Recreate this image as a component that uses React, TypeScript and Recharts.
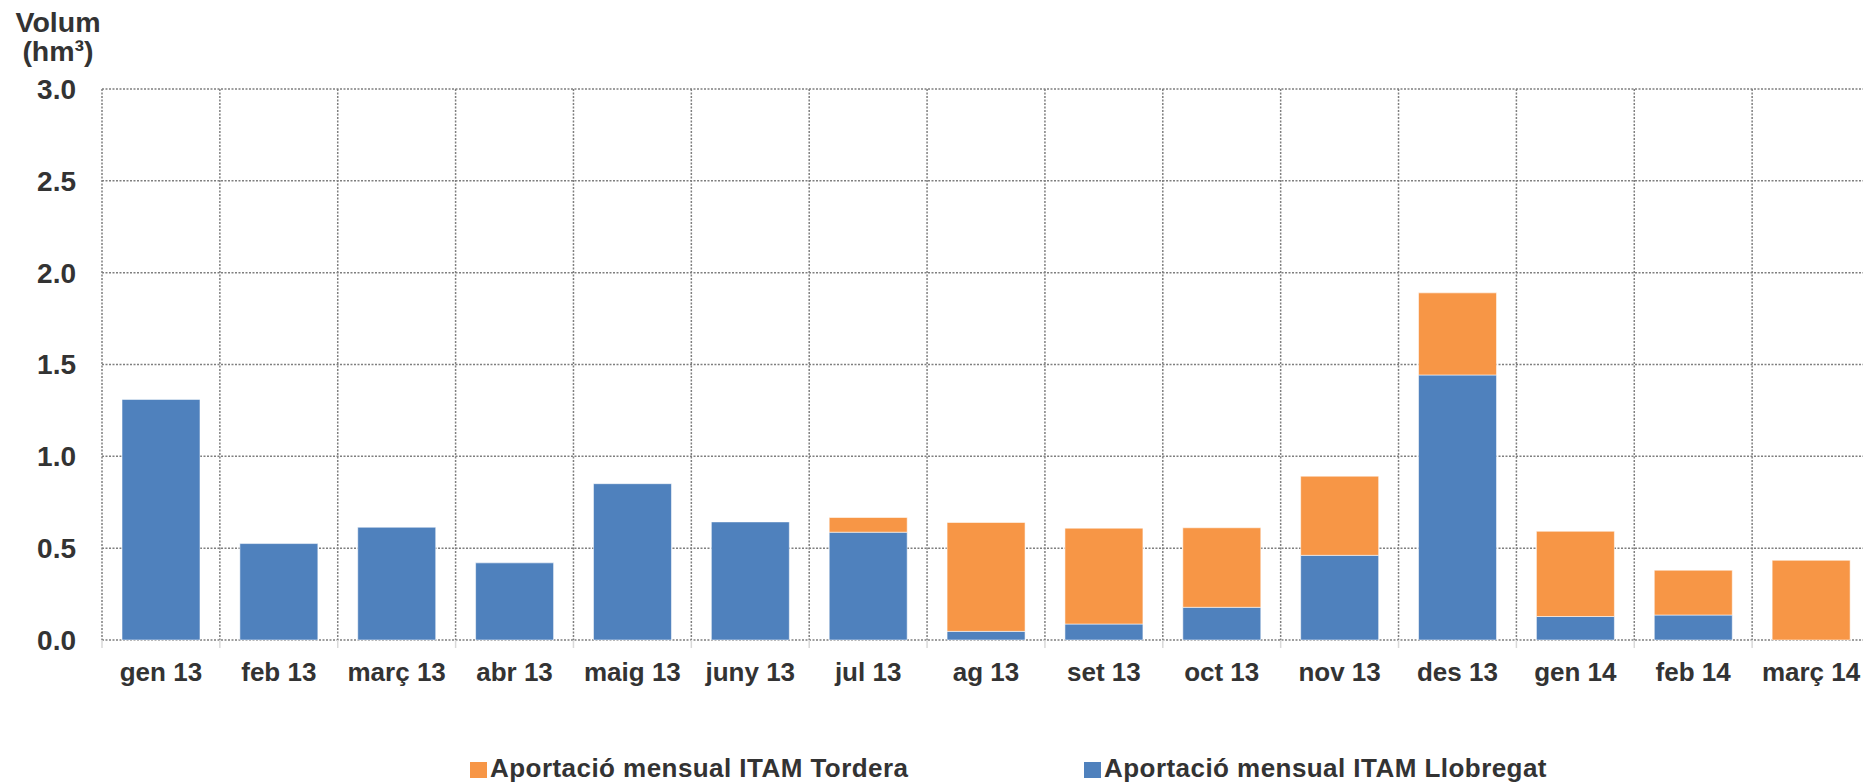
import React from "react";
import { BarChart, Bar, XAxis, YAxis, CartesianGrid } from "recharts";

const months = [
  "gen 13", "feb 13", "març 13", "abr 13", "maig 13", "juny 13", "jul 13", "ag 13",
  "set 13", "oct 13", "nov 13", "des 13", "gen 14", "feb 14", "març 14",
];
const llobregat = [1.31, 0.525, 0.614, 0.42, 0.851, 0.643, 0.587, 0.047, 0.087, 0.178, 0.461, 1.443, 0.128, 0.136, 0];
const tordera = [0, 0, 0, 0, 0, 0, 0.08, 0.593, 0.522, 0.433, 0.431, 0.447, 0.464, 0.244, 0.434];
const yTicks = [0, 0.5, 1, 1.5, 2, 2.5, 3];

const data = months.map((m, i) => ({
  month: m,
  llobregat: llobregat[i] || null,
  tordera: tordera[i] || null,
}));

const BLUE = "#4F81BD";
const ORANGE = "#F79646";
const TEXT = "#333333";
const FONT = "'Liberation Sans', Arial, sans-serif";
const GRID = "#7f7f7f";

const W = 1880;
const H = 783;
const M = { top: 89, right: 10, bottom: 0, left: 0 };
const Y_W = 102;
const X_H = 143;
const plotLeft = M.left + Y_W;
const plotRight = W - M.right;
const halfBand = (plotRight - plotLeft) / months.length / 2;
const LABEL_GAP = 23;

function MonthTick(props: any) {
  const { x, y, payload, index } = props;
  const axisY = y - LABEL_GAP;
  return (
    <g>
      <line x1={x - halfBand} x2={x - halfBand} y1={axisY} y2={axisY + 8} stroke="#d9d9d9" strokeWidth={1.5} />
      {index === months.length - 1 && (
        <line x1={x + halfBand} x2={x + halfBand} y1={axisY} y2={axisY + 8} stroke="#d9d9d9" strokeWidth={1.5} />
      )}
      <text x={x} y={y} dy="0.71em" textAnchor="middle" fill={TEXT} fontSize={26} fontWeight="bold" fontFamily={FONT}>
        {payload.value}
      </text>
    </g>
  );
}

function LegendItem({ color, label, left }: { color: string; label: string; left: number }) {
  return (
    <div style={{ position: "absolute", left, top: 755, display: "flex", alignItems: "flex-start", whiteSpace: "nowrap" }}>
      <div style={{ width: 17, height: 16, background: color, marginTop: 7, marginRight: 3 }} />
      <span style={{ fontSize: 26, lineHeight: "26px", fontWeight: "bold", color: TEXT, letterSpacing: 0.45 }}>{label}</span>
    </div>
  );
}

export default function App() {
  return (
    <div
      style={{
        position: "absolute",
        left: 0,
        top: 0,
        width: 1863,
        height: 783,
        overflow: "hidden",
        background: "#fff",
        fontFamily: FONT,
      }}
    >
      <div
        style={{
          position: "absolute",
          left: 0,
          top: 8,
          width: 116,
          textAlign: "center",
          fontSize: 28.5,
          lineHeight: "29px",
          fontWeight: "bold",
          color: TEXT,
        }}
      >
        <div>Volum</div>
        <div>(hm³)</div>
      </div>

      <BarChart width={W} height={H} data={data} margin={M} barSize={78}>
        <CartesianGrid
          stroke={GRID}
          strokeWidth={1.5}
          strokeDasharray="2 1.5"
          verticalCoordinatesGenerator={({ offset }: any) => {
            const left = offset?.left ?? plotLeft;
            const width = offset?.width ?? plotRight - plotLeft;
            return months.map((_, i) => left + (i * width) / months.length).concat(left + width);
          }}
        />
        <XAxis
          dataKey="month"
          height={X_H}
          axisLine={false}
          tickLine={false}
          tickSize={0}
          tickMargin={LABEL_GAP}
          interval={0}
          tick={<MonthTick />}
        />
        <YAxis
          width={Y_W}
          domain={[0, 3]}
          ticks={yTicks}
          axisLine={false}
          tickLine={false}
          tickSize={0}
          tickMargin={26}
          tickFormatter={(v: number) => v.toFixed(1)}
          tick={{ fill: TEXT, fontSize: 28, fontWeight: "bold", fontFamily: FONT }}
        />
        <Bar dataKey="llobregat" stackId="a" fill={BLUE} stroke="rgba(255,255,255,0.55)" strokeWidth={1} isAnimationActive={false} />
        <Bar dataKey="tordera" stackId="a" fill={ORANGE} stroke="rgba(255,255,255,0.55)" strokeWidth={1} isAnimationActive={false} />
      </BarChart>

      <LegendItem color={ORANGE} label="Aportació mensual ITAM Tordera" left={470} />
      <LegendItem color={BLUE} label="Aportació mensual ITAM Llobregat" left={1084} />
    </div>
  );
}
